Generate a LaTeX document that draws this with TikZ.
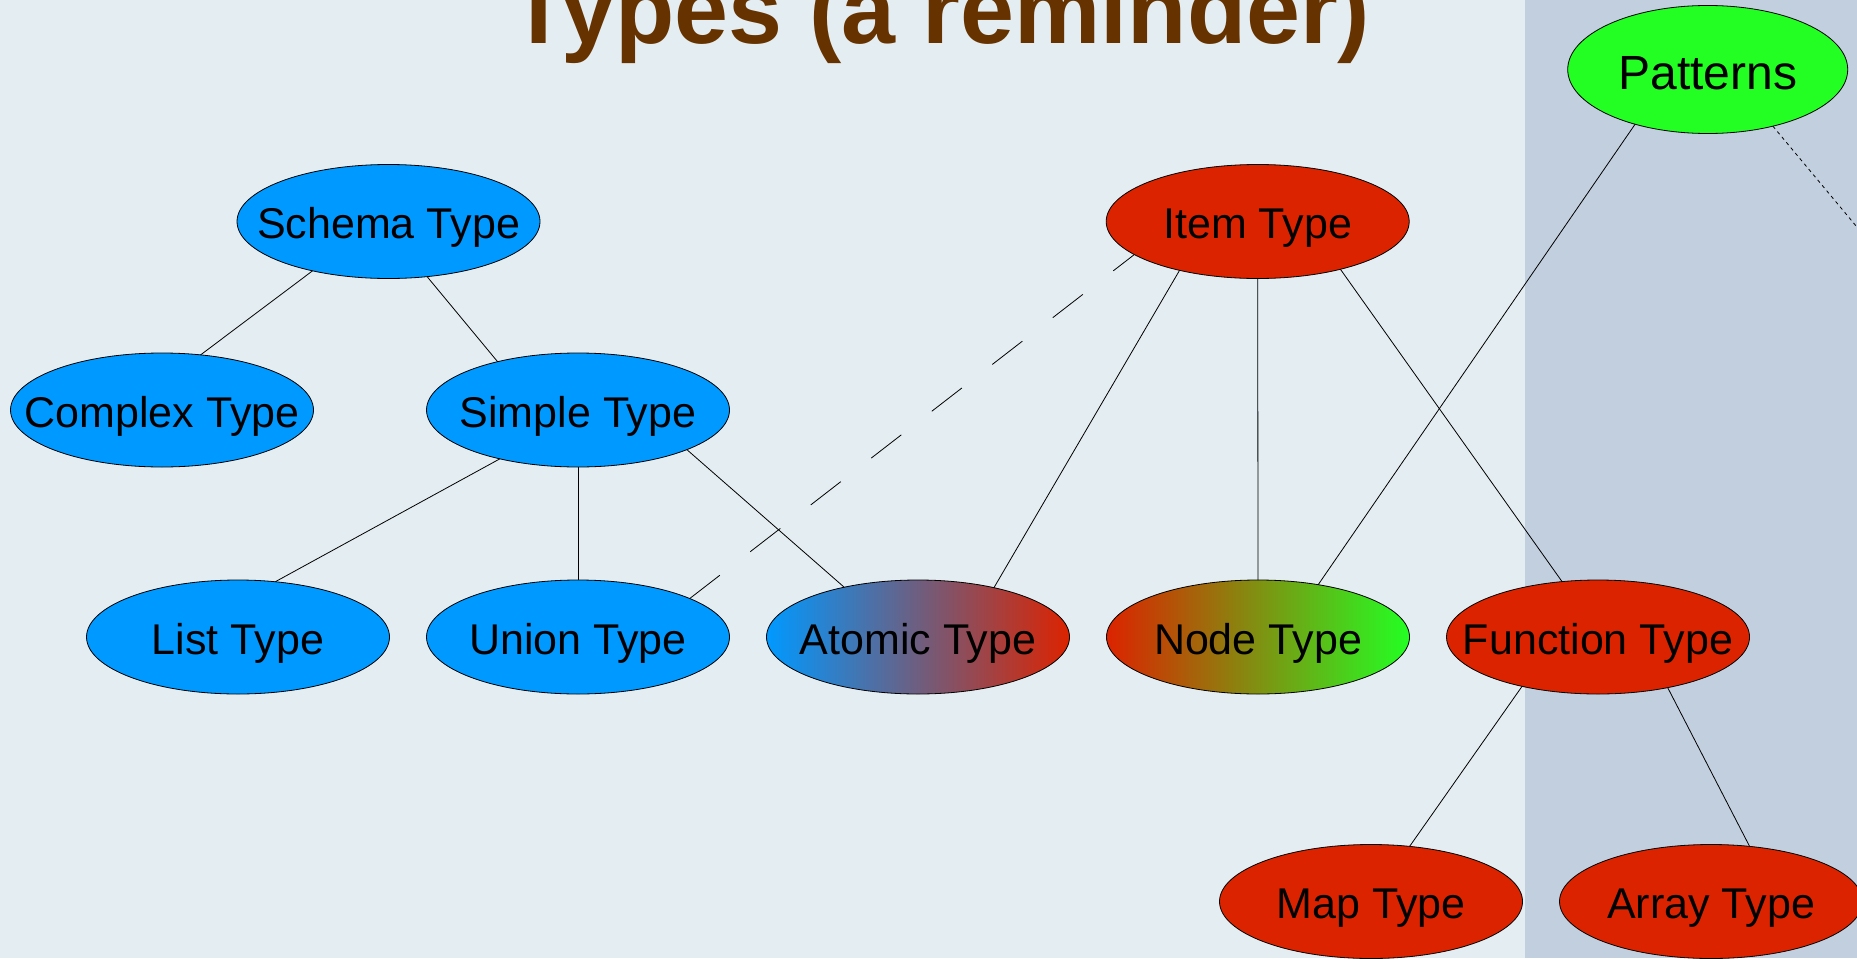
\documentclass[tikz,border=0pt]{standalone}
\usepackage{fontspec}
\setmainfont{Liberation Sans}
\usetikzlibrary{shapes.geometric}
\definecolor{bgleft}{RGB}{228,237,241}
\definecolor{bgright}{RGB}{194,207,223}
\definecolor{myblue}{RGB}{0,153,255}
\definecolor{myred}{RGB}{220,35,0}
\definecolor{mygreen}{RGB}{35,255,35}
\definecolor{titlebrown}{RGB}{102,51,0}
\tikzset{
  typenode/.style={ellipse, draw=black, line width=0.8pt, minimum width=303pt, minimum height=114pt,
    inner xsep=-60pt, inner ysep=0pt, outer sep=0pt,
    font=\fontsize{43}{50}\selectfont, text height=34pt, text depth=0pt, text=black},
  bluetype/.style={typenode, fill=myblue},
  redtype/.style={typenode, fill=myred},
  link/.style={draw=black, line width=0.8pt},
  dashlink/.style={link, dash pattern=on 38pt off 38.5pt},
  dotlink/.style={link, dash pattern=on 3.5pt off 3.5pt},
}
\begin{document}
\begin{tikzpicture}[x=1pt,y=-1pt]
\useasboundingbox (0,0) rectangle (1857,958);
\clip (0,0) rectangle (1857,958);
\fill[bgleft] (0,0) rectangle (1525,958);
\fill[bgright] (1525,0) rectangle (1857,958);

\node[font=\fontsize{97}{105}\selectfont\bfseries, text=titlebrown, anchor=base] (title) at (940,44) {Types (a reminder)};

\node[bluetype] (schema) at (388.5,221.5) {Schema Type};
\node[redtype] (item) at (1257.7,221.5) {Item Type};
\node[typenode, fill=mygreen, minimum width=280pt, minimum height=128pt,
  font=\fontsize{48}{55}\selectfont, text height=39pt] (patterns) at (1707.7,69.5) {Patterns};
\node[bluetype] (complex) at (162,410) {Complex Type};
\node[bluetype] (simple) at (578,410) {Simple Type};
\node[bluetype] (list) at (238,637) {List Type};
\node[bluetype] (union) at (578,637) {Union Type};
\node[typenode, left color=myblue, right color=myred] (atomic) at (918,637) {Atomic Type};
\node[typenode, left color=myred, right color=mygreen] (nodet) at (1258,637) {Node Type};
\node[redtype] (function) at (1598,637) {Function Type};
\node[redtype] (map) at (1371,901.5) {Map Type};
\node[redtype] (array) at (1711,901.5) {Array Type};
\coordinate (offright) at (1900,278.7);

\draw[link] (schema.213.6) -- (complex.55.5);
\draw[link] (schema.-55.6) -- (simple.149.1);
\draw[link] (simple.212) -- (list.56.4);
\draw[link] (simple.south) -- (union.north);
\draw[link] (simple.-20.3) -- (atomic.146.9);
\draw[link] (item.212) -- (atomic.33.6);
\draw[link] (item.south) -- (nodet.north);
\draw[link] (item.-30.4) -- (function.123.9);
\draw[dashlink] (union.19.5) -- (item.195.6);
\draw[link] (patterns.217) -- (nodet.41);
\draw[dotlink] (patterns.-41.1) -- (offright);
\draw[link] (function.213.3) -- (map.55.2);
\draw[link] (function.-36.1) -- (array.55.6);
\end{tikzpicture}
\end{document}
